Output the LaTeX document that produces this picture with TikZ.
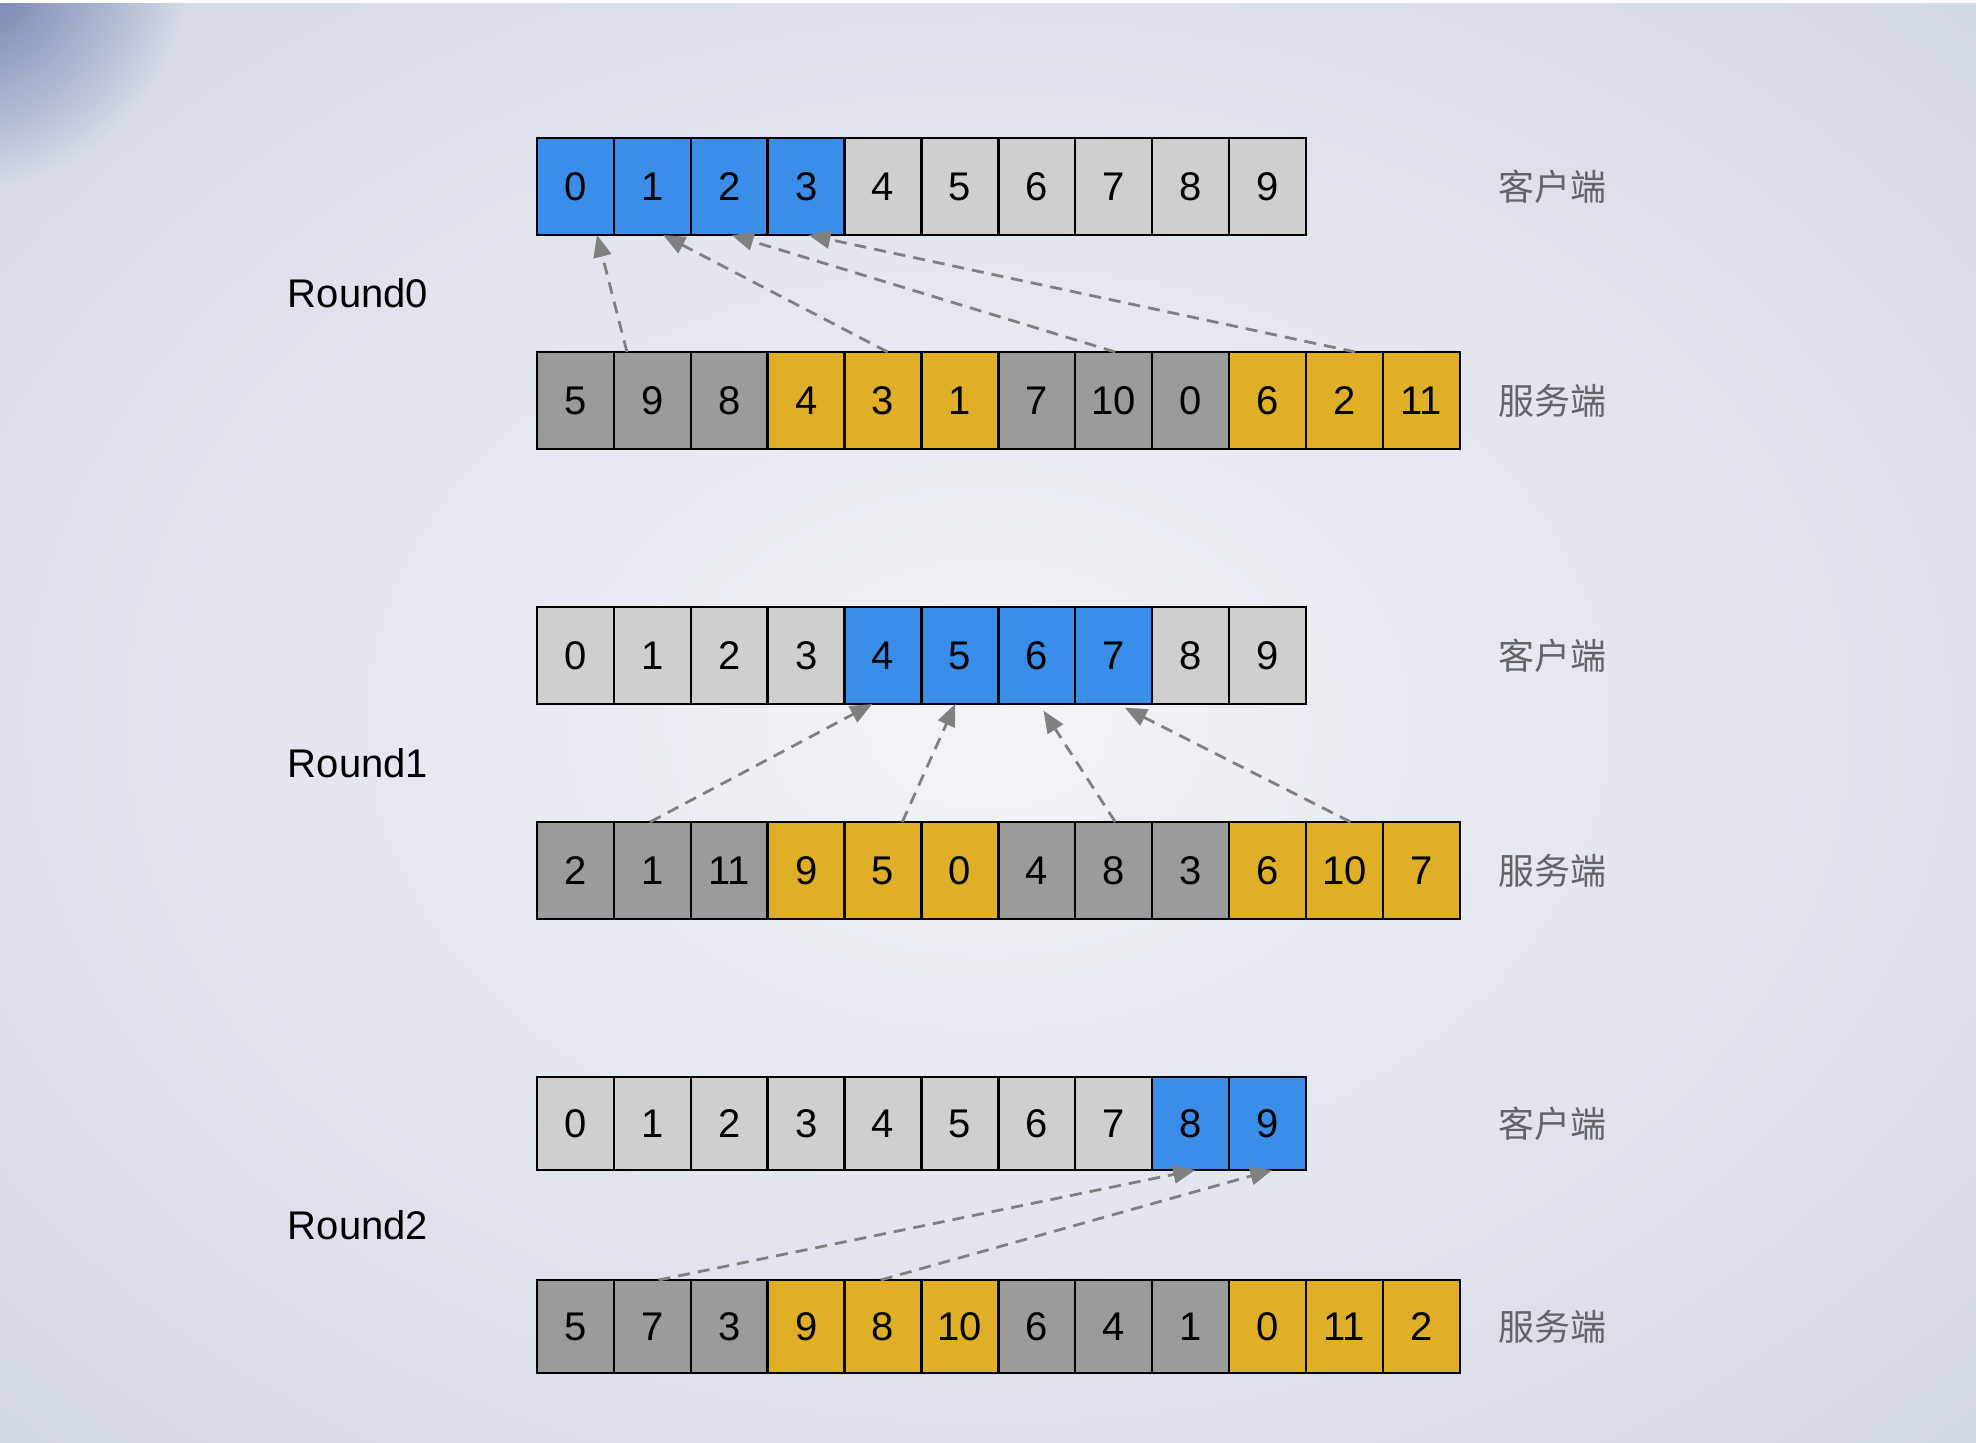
\documentclass[tikz,border=0pt]{standalone}
\usepackage{fontspec}
\setmainfont{Liberation Sans}
\newfontfamily\cjk{Noto Sans CJK SC}
\usetikzlibrary{calc,arrows.meta,fadings}

\definecolor{reqblue}{RGB}{58,142,233}
\definecolor{idlegray}{RGB}{207,207,207}
\definecolor{srvgray}{RGB}{155,155,155}
\definecolor{srvgold}{RGB}{223,175,39}
\definecolor{linkgray}{RGB}{128,128,128}
\definecolor{tagtext}{RGB}{100,100,104}
\definecolor{bgcenter}{RGB}{243,244,248}
\definecolor{bgmid}{RGB}{224,228,237}
\definecolor{bgside}{RGB}{198,204,221}
\definecolor{bgedge}{RGB}{188,195,216}
\definecolor{bgcorner}{RGB}{98,114,166}

\pgfdeclareradialshading{backdrop}{\pgfpoint{0bp}{0bp}}{color(0bp)=(bgcenter); color(20bp)=(bgmid); color(50bp)=(bgside); color(71bp)=(bgedge)}
\tikzfading[name=cornerfade, inner color=transparent!0, outer color=transparent!100]

\tikzset{
  cell/.style={draw=black, line width=1.2pt, minimum width=38.5pt, minimum height=48.5pt,
    inner sep=0pt, outer sep=0pt, font=\fontsize{20}{22}\selectfont},
  link/.style={draw=linkgray, line width=1.4pt, dash pattern=on 6pt off 4pt,
    -{Triangle[length=11pt,width=9pt]}},
  side/.style={text=tagtext, font=\cjk\fontsize{18}{20}\selectfont},
  roundtag/.style={font=\fontsize{20}{22}\selectfont}
}

\begin{document}
\begin{tikzpicture}[x=0.5pt,y=-0.5pt]
\useasboundingbox (0,0) rectangle (1976,1442);

% background
\shade[shading=backdrop] (0,0) rectangle (1976,1442);
\fill[bgcorner, path fading=cornerfade] (-40,-40) circle (230);
\fill[white] (0,0) rectangle (1976,3);

% Round0
\foreach \v/\c [count=\i from 0] in {0/reqblue,1/reqblue,2/reqblue,3/reqblue,4/idlegray,5/idlegray,6/idlegray,7/idlegray,8/idlegray,9/idlegray}
  \node[cell, fill=\c] (c0-\i) at (575.45+76.9*\i, 186.5) {\v};
\foreach \v/\c [count=\i from 0] in {5/srvgray,9/srvgray,8/srvgray,4/srvgold,3/srvgold,1/srvgold,7/srvgray,10/srvgray,0/srvgray,6/srvgold,2/srvgold,11/srvgold}
  \node[cell, fill=\c] (s0-\i) at (575.45+76.9*\i, 400.5) {\v};

\node[roundtag] (r0) at (358,293.5) {Round0};
\node[side] (cli0) at (1552,186.5) {客户端};
\node[side] (srv0) at (1552,400.5) {服务端};

\draw[link] ($(s0-1.north west)!.17!(s0-1.north east)$) -- ($(c0-0.south west)!.78!(c0-0.south east)$);
\draw[link] ($(s0-4.north west)!.56!(s0-4.north east)$) -- ($(c0-1.south west)!.64!(c0-1.south east)$);
\draw[link] ($(s0-7.north west)!.52!(s0-7.north east)$) -- ($(c0-2.south west)!.53!(c0-2.south east)$);
\draw[link] ($(s0-10.north west)!.64!(s0-10.north east)$) -- ($(c0-3.south west)!.53!(c0-3.south east)$);

% Round1
\foreach \v/\c [count=\i from 0] in {0/idlegray,1/idlegray,2/idlegray,3/idlegray,4/reqblue,5/reqblue,6/reqblue,7/reqblue,8/idlegray,9/idlegray}
  \node[cell, fill=\c] (c1-\i) at (575.45+76.9*\i, 655.5) {\v};
\foreach \v/\c [count=\i from 0] in {2/srvgray,1/srvgray,11/srvgray,9/srvgold,5/srvgold,0/srvgold,4/srvgray,8/srvgray,3/srvgray,6/srvgold,10/srvgold,7/srvgold}
  \node[cell, fill=\c] (s1-\i) at (575.45+76.9*\i, 870.5) {\v};

\node[roundtag] (r1) at (358,763) {Round1};
\node[side] (cli1) at (1552,655.5) {客户端};
\node[side] (srv1) at (1552,870.5) {服务端};

\draw[link] ($(s1-1.north west)!.47!(s1-1.north east)$) -- ($(c1-4.south west)!.36!(c1-4.south east)$);
\draw[link] ($(s1-4.north west)!.75!(s1-4.north east)$) -- ($(c1-5.south west)!.44!(c1-5.south east)$);
\draw[link, shorten >=4pt] ($(s1-7.north west)!.52!(s1-7.north east)$) -- ($(c1-6.south west)!.53!(c1-6.south east)$);
\draw[link, shorten >=4pt] ($(s1-10.north west)!.58!(s1-10.north east)$) -- ($(c1-7.south west)!.55!(c1-7.south east)$);

% Round2
\foreach \v/\c [count=\i from 0] in {0/idlegray,1/idlegray,2/idlegray,3/idlegray,4/idlegray,5/idlegray,6/idlegray,7/idlegray,8/reqblue,9/reqblue}
  \node[cell, fill=\c, minimum height=46.5pt] (c2-\i) at (575.45+76.9*\i, 1123.5) {\v};
\foreach \v/\c [count=\i from 0] in {5/srvgray,7/srvgray,3/srvgray,9/srvgold,8/srvgold,10/srvgold,6/srvgray,4/srvgray,1/srvgray,0/srvgold,11/srvgold,2/srvgold}
  \node[cell, fill=\c, minimum height=46.5pt] (s2-\i) at (575.45+76.9*\i, 1326.5) {\v};

\node[roundtag] (r2) at (358,1225) {Round2};
\node[side] (cli2) at (1552,1123.5) {客户端};
\node[side] (srv2) at (1552,1326.5) {服务端};

\draw[link] ($(s2-1.north west)!.58!(s2-1.north east)$) -- ($(c2-8.south west)!.56!(c2-8.south east)$);
\draw[link] ($(s2-4.north west)!.47!(s2-4.north east)$) -- ($(c2-9.south west)!.56!(c2-9.south east)$);
\end{tikzpicture}
\end{document}
